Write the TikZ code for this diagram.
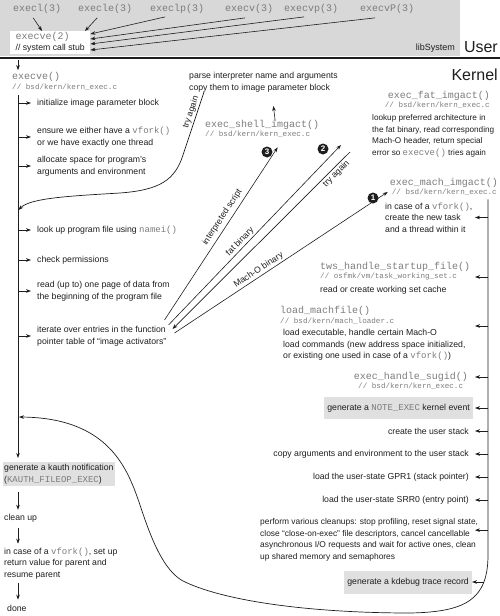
\documentclass[tikz,border=0pt]{standalone}
\usepackage{fontspec}
\setmainfont{Liberation Sans}
\setmonofont{Liberation Mono}
\usetikzlibrary{arrows.meta}
\definecolor{ink}{HTML}{1E1E1E}
\definecolor{codegray}{HTML}{7C7C7C}
\definecolor{libgray}{HTML}{D8D8D8}
\definecolor{evgray}{HTML}{E0E0E0}
\newcommand{\code}[1]{{\fontsize{9}{11.5}\ttfamily\color{codegray}#1}}

\begin{document}
\begin{tikzpicture}[x=1pt, y=-1pt, >={Stealth[length=5pt, width=3.6pt]},
  txt/.style={font=\fontsize{8.7}{11.5}\selectfont, text=ink, inner sep=0pt, align=left},
  fname/.style={font=\fontsize{10}{12}\ttfamily, text=codegray, inner sep=0pt},
  fpath/.style={font=\fontsize{7.6}{9}\ttfamily, text=codegray, inner sep=0pt},
  greybox/.style={fill=#1, inner xsep=3pt, inner ysep=2pt, text=ink, align=left,
                  font=\fontsize{8.7}{11.5}\selectfont},
  arr/.style={->, ink, line width=0.6pt},
  spine/.style={ink, line width=0.7pt},
  lbl/.style={font=\fontsize{8.7}{10}\selectfont, text=ink, inner sep=1.5pt, sloped},
  badge/.style={circle, fill=ink, text=white, inner sep=0pt, minimum size=11pt,
                font=\fontsize{8}{8}\selectfont\bfseries},
  side/.style={font=\fontsize{16}{18}\selectfont, text=ink, inner sep=0pt}]

\useasboundingbox (0,0) rectangle (500,616);

% User space
\fill[libgray] (0,0) rectangle (460,56);
\draw[ink, line width=1.6pt] (0,58) -- (500,58);
\node[txt, anchor=east, font=\fontsize{9}{11}\selectfont] (libsys) at (455,48) {libSystem};
\node[side, anchor=east] (user) at (498,47) {User};
\node[side, anchor=east] (kernel) at (498,75) {Kernel};

\node[fname, anchor=west] (execl) at (13,9) {execl(3)};
\node[fname, anchor=west] (execle) at (78,9) {execle(3)};
\node[fname, anchor=west] (execlp) at (150,9) {execlp(3)};
\node[fname, anchor=west] (execv) at (225,9) {execv(3)};
\node[fname, anchor=west] (execvp) at (284,9) {execvp(3)};
\node[fname, anchor=west] (execvP) at (360,9) {execvP(3)};

\node[fill=white, anchor=north west, inner xsep=2pt, inner ysep=1.5pt, align=left,
      minimum width=80pt, text=ink, font=\fontsize{8.7}{11}\selectfont] (stub) at (10,31)
  {{\fontsize{10}{11}\ttfamily\color{codegray}execve(2)}\\// system call stub};

\draw[arr] ([xshift=-4pt,yshift=-4pt]execl.south) -- ([xshift=32pt]stub.north west);
\draw[arr] ([xshift=-8pt,yshift=-4pt]execle.south) -- ([xshift=75pt]stub.north west);
\draw[arr] ([xshift=-12pt,yshift=-3pt]execlp.south) -- ([yshift=-3pt]stub.north east);
\draw[arr] ([xshift=-4pt,yshift=-4pt]execv.south) -- ([yshift=-8pt]stub.north east);
\draw[arr] ([xshift=-7pt,yshift=-3pt]execvp.south) -- ([yshift=-13pt]stub.north east);
\draw[arr] ([xshift=-12pt,yshift=-4pt]execvP.south) -- ([yshift=-19pt]stub.north east);

% Kernel: execve() column
\coordinate (lsp) at (18,0);
\coordinate (ltip) at (31,0);
\coordinate (retry) at (18.5,210);
\coordinate (kauthret) at (19,417);

\node[fname, anchor=west] (kexecve) at (12,77) {execve()};
\node[fpath, anchor=west] (kexecvep) at (12,87) {// bsd/kern/kern\_exec.c};
\draw[arr, shorten <=6pt, shorten >=2pt] (stub.south -| lsp) -- (kexecve.north -| lsp);

\node[txt, anchor=west] (init) at (37,103) {initialize image parameter block};
\node[txt, anchor=west] (ensure) at (37,137) {ensure we either have a \code{vfork()}\\or we have exactly one thread};
\node[txt, anchor=west] (alloc) at (37,166) {allocate space for program's\\arguments and environment};
\node[txt, anchor=west] (namei) at (37,230) {look up program file using \code{namei()}};
\node[txt, anchor=west] (perms) at (37,260) {check permissions};
\node[txt, anchor=west] (readpg) at (37,291) {read (up to) one page of data from\\the beginning of the program file};
\node[txt, anchor=west] (iter) at (37,336) {iterate over entries in the function\\pointer table of ``image activators''};
\foreach \n in {init,ensure,alloc,namei,perms,readpg,iter}
  \draw[arr] (lsp |- \n.west) -- (ltip |- \n.west);

\node[greybox=evgray, anchor=north west, inner xsep=1pt] (kauth) at (3,462)
  {generate a kauth notification\\(\code{KAUTH\_FILEOP\_EXEC})};
\draw[spine, ->, shorten <=5pt, shorten >=4pt] (kexecvep.south -| lsp) -- (kauth.north -| lsp);

\node[txt, anchor=west] (cleanlft) at (4,518) {clean up};
\node[txt, anchor=west] (resume) at (4,563.5) {in case of a \code{vfork()}, set up\\return value for parent and\\resume parent};
\node[txt, anchor=west] (done) at (7,608) {done};
\draw[arr, shorten <=6pt, shorten >=4pt] (kauth.south -| lsp) -- (cleanlft.north -| lsp);
\draw[arr, shorten <=6pt, shorten >=4pt] (cleanlft.south -| lsp) -- (resume.north -| lsp);
\draw[arr, shorten <=4pt, shorten >=5pt] (resume.south -| lsp) -- (done.north -| lsp);

% Image activators
\node[txt, anchor=west] (parse) at (189,82) {parse interpreter name and arguments\\copy them to image parameter block};
\node[fname, anchor=west] (shell) at (205,125) {exec\_shell\_imgact()};
\node[fpath, anchor=west] (shellp) at (205,134) {// bsd/kern/kern\_exec.c};
\draw[arr] ([xshift=13pt,yshift=-1pt]shell.north) -- ([xshift=10pt,yshift=-14pt]parse.south);
\draw[spine, <-] (retry) .. controls (30,198) and (70,196) .. (120,193)
  .. controls (160,190) and (175,180) .. (183,155)
  -- node[lbl, above, pos=0.65] {try again} ([xshift=15pt]parse.south west);

\node[fname, anchor=east] (fat) at (490,96) {exec\_fat\_imgact()};
\node[fpath, anchor=east] (fatp) at (490,105) {// bsd/kern/kern\_exec.c};
\node[txt, anchor=west, font=\fontsize{8.2}{11.5}\selectfont] (fatdo) at (372,136) {lookup preferred architecture in\\the fat binary, read corresponding\\Mach-O header, return special\\error so \code{execve()} tries again};

\node[fname, anchor=east] (mach) at (498,183) {exec\_mach\_imgact()};
\node[fpath, anchor=east] (machp) at (497,192) {// bsd/kern/kern\_exec.c};

\node[badge] (b3) at (267,152) {3};
\node[badge] (b2) at (323,149) {2};
\node[badge] (b1) at (373,198) {1};

\draw[arr] ([xshift=-2pt,yshift=16pt]iter.east) -- node[lbl, above=2pt, pos=0.57] {interpreted script} ([xshift=20pt,yshift=-10pt]shellp.south);
\draw[arr] ([xshift=2pt,yshift=11pt]iter.east) -- node[lbl, above, pos=0.44] {fat binary} ([xshift=-31pt,yshift=-9pt]fatdo.west);
\draw[spine, <-] ([xshift=6pt,yshift=7pt]iter.east) -- node[lbl, below, pos=0.9] {try again} ([xshift=-22pt,yshift=-16pt]fatdo.west);
\draw[arr] ([xshift=8pt,yshift=3pt]iter.east) -- node[lbl, above, pos=0.41] {Mach-O binary} ([xshift=-4pt]machp.west);

% exec_mach_imgact() column
\coordinate (rsp) at (488,0);
\coordinate (rtip) at (475,0);
\coordinate (kdbtap) at (484,582);

\node[txt, anchor=west] (newtask) at (385,217.5) {in case of a \code{vfork()},\\create the new task\\and a thread within it};
\node[fname, anchor=west] (tws) at (320,267) {tws\_handle\_startup\_file()};
\node[fpath, anchor=west] (twsp) at (320,277) {// osfmk/vm/task\_working\_set.c};
\node[txt, anchor=west] (twsdo) at (320,290) {read or create working set cache};
\node[fname, anchor=west] (lmach) at (280,311) {load\_machfile()};
\node[fpath, anchor=west] (lmachp) at (280,321) {// bsd/kern/mach\_loader.c};
\node[txt, anchor=west] (lmachdo) at (283,345) {load executable, handle certain Mach-O\\load commands (new address space initialized,\\or existing one used in case of a \code{vfork()})};
\node[fname, anchor=east] (sugid) at (468,377) {exec\_handle\_sugid()};
\node[fpath, anchor=west] (sugidp) at (358,386) {// bsd/kern/kern\_exec.c};
\node[greybox=evgray, anchor=east, minimum height=22pt] (noteev) at (473,408) {generate a \code{NOTE\_EXEC} kernel event};
\node[txt, anchor=east] (ustack) at (469,431) {create the user stack};
\node[txt, anchor=east] (cpargs) at (469,454) {copy arguments and environment to the user stack};
\node[txt, anchor=east] (gpr1) at (469,477) {load the user-state GPR1 (stack pointer)};
\node[txt, anchor=east] (srr0) at (469,500) {load the user-state SRR0 (entry point)};
\node[txt, anchor=west, font=\fontsize{8.4}{11.5}\selectfont] (cleanup) at (260,540) {perform various cleanups: stop profiling, reset signal state,\\close ``close-on-exec'' file descriptors, cancel cancellable\\asynchronous I/O requests and wait for active ones, clean\\up shared memory and semaphores};
\node[greybox=evgray, anchor=east, minimum height=23pt] (kdbg) at (472,582) {generate a kdebug trace record};

\coordinate (lmachin) at ([yshift=-5pt]lmachp.east);
\coordinate (cleanin) at ([yshift=-11.5pt]cleanup.north);

\draw[spine, ->, shorten <=4pt] (machp.south -| rsp) -- (488,555)
  .. controls (488,600) and (465,612) .. (410,613)
  .. controls (320,613) and (230,603) .. (185,582)
  .. controls (163,572) and (150,535) .. (140,505)
  .. controls (128,470) and (110,418) .. (kauthret);

\foreach \n in {newtask,twsp,sugid,noteev,ustack,cpargs,gpr1,srr0}
  \draw[arr] (rsp |- \n.east) -- (rtip |- \n.east);
\draw[arr] (rsp |- lmachin) -- (rtip |- lmachin);
\draw[arr] (rsp |- cleanin) -- (rtip |- cleanin);
\draw[arr] (kdbtap) -- (kdbg.east);

\end{tikzpicture}
\end{document}
